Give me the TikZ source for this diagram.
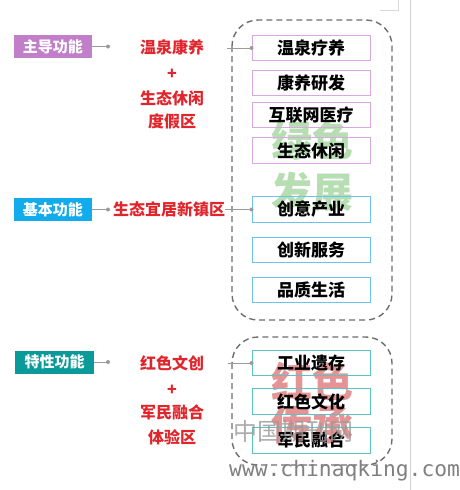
\documentclass[tikz,border=0pt]{standalone}
\usepackage{fontspec}
\newfontfamily\cjk{Noto Sans CJK SC}
\newfontfamily\wmono{DejaVu Sans Mono}
\definecolor{purp}{HTML}{C07FC8}
\definecolor{skyb}{HTML}{12ABEB}
\definecolor{tealc}{HTML}{0A9A9A}
\definecolor{redt}{HTML}{E0262C}
\definecolor{purpb}{HTML}{D9A8DF}
\definecolor{skybb}{HTML}{6CC4EE}
\definecolor{tealb}{HTML}{5CC2C2}
\definecolor{conn}{HTML}{9A9A9A}
\definecolor{dashc}{HTML}{6E6E6E}
\definecolor{bggreen}{HTML}{B7DDB2}
\definecolor{bgred}{HTML}{E49494}
\tikzset{
  x=1pt, y=-1pt,
  lab/.style={fill=#1, text=white, font=\cjk\bfseries\fontsize{15}{17}\selectfont, minimum width=78pt, minimum height=23pt, inner sep=0pt},
  redtxt/.style={text=redt, font=\cjk\bfseries\fontsize{16}{18}\selectfont, inner sep=0pt},
  itembox/.style={draw=#1, line width=0.9pt, fill=white, fill opacity=0, text opacity=1, minimum width=118pt, minimum height=25.5pt, inner sep=0pt, font=\cjk\bfseries\fontsize{17}{19}\selectfont},
  group/.style={draw=dashc, line width=1.4pt, dash pattern=on 6pt off 4pt, rounded corners=26pt},
  bigbg/.style={text=#1, font=\cjk\bfseries\fontsize{41}{43}\selectfont, inner sep=0pt},
  link/.style={draw=conn, line width=0.8pt},
  dot/.style={fill=conn, draw=none}
}
\begin{document}
\begin{tikzpicture}
\clip (0,0) rectangle (459,490);
\fill[white] (0,0) rectangle (459,490);
% screenshot frame lines
\draw[draw=black!18, line width=0.8pt] (410,0) -- (410,490);
\draw[draw=black!15, line width=0.6pt] (380,10) -- (398,10) -- (398,0);
% background large texts
\node[bigbg=bggreen] (g1) at (312,141) {绿色};
\node[bigbg=bggreen] (g2) at (312,192) {发展};
\node[bigbg=bgred] (r1) at (312,381) {红色};
\node[bigbg=bgred] (r2) at (312,425) {传承};
% dashed groups
\draw[group] (232,20) rectangle (392,320);
\draw[group] (232,337) rectangle (392,465);
% left labels
\node[lab=purp] (L1) at (53,46.5) {主导功能};
\node[lab=skyb] (L2) at (53,209.5) {基本功能};
\node[lab=tealc, minimum width=79pt] (L3) at (54.5,362) {特性功能};
% red texts
\node[redtxt] (R1a) at (172,47) {温泉康养};
\node[redtxt] (R1p) at (172,74) {+};
\node[redtxt] (R1b) at (172,98) {生态休闲};
\node[redtxt] (R1c) at (172,121) {度假区};
\node[redtxt, anchor=west] (R2) at (113,209.5) {生态宜居新镇区};
\node[redtxt] (R3a) at (172,363) {红色文创};
\node[redtxt] (R3p) at (172,390) {+};
\node[redtxt] (R3b) at (172,412) {军民融合};
\node[redtxt] (R3c) at (172,437) {体验区};
% item boxes
\node[itembox=purpb] (B1) at (311,48) {温泉疗养};
\node[itembox=purpb] (B2) at (311,83) {康养研发};
\node[itembox=purpb] (B3) at (311,115) {互联网医疗};
\node[itembox=purpb] (B4) at (311,150.5) {生态休闲};
\node[itembox=skybb] (B5) at (311,209.5) {创意产业};
\node[itembox=skybb] (B6) at (311,250) {创新服务};
\node[itembox=skybb] (B7) at (311,290) {品质生活};
\node[itembox=tealb] (B8) at (311,363) {工业遗存};
\node[itembox=tealb] (B9) at (311,401.5) {红色文化};
\node[itembox=tealb] (B10) at (311,440.5) {军民融合};
% connectors
\coordinate (d1) at (108,46.5);
\coordinate (d2) at (108,209.5);
\coordinate (d3) at (108,362);
\draw[link] (L1.east) -- (d1);
\draw[link] (L2.east) -- (d2);
\draw[link] (L3.east) -- (d3);
\fill[dot] (d1) circle (2pt);
\fill[dot] (d2) circle (2pt);
\fill[dot] (d3) circle (2pt);
\coordinate (c1) at (227,48);
\coordinate (c3) at (228,363);
\draw[link] (c1) -- (B1.west);
\draw[link] (R2.east) -- (B5.west);
\draw[link] (c3) -- (B8.west);
\fill[dot] (B1.west) circle (2pt);
\fill[dot] (B5.west) circle (2pt);
\fill[dot] (B8.west) circle (2pt);
% watermark
\node[text=black!40, text opacity=0.8, font=\cjk\fontsize{24}{26}\selectfont, inner sep=0pt] (wm1) at (293,431) {中国期刊网};
\node[text=black!50, font=\wmono\fontsize{21.3}{24}\selectfont, inner sep=0pt, anchor=west] (wm2) at (229,471) {www.chinaqking.com};
\end{tikzpicture}
\end{document}
